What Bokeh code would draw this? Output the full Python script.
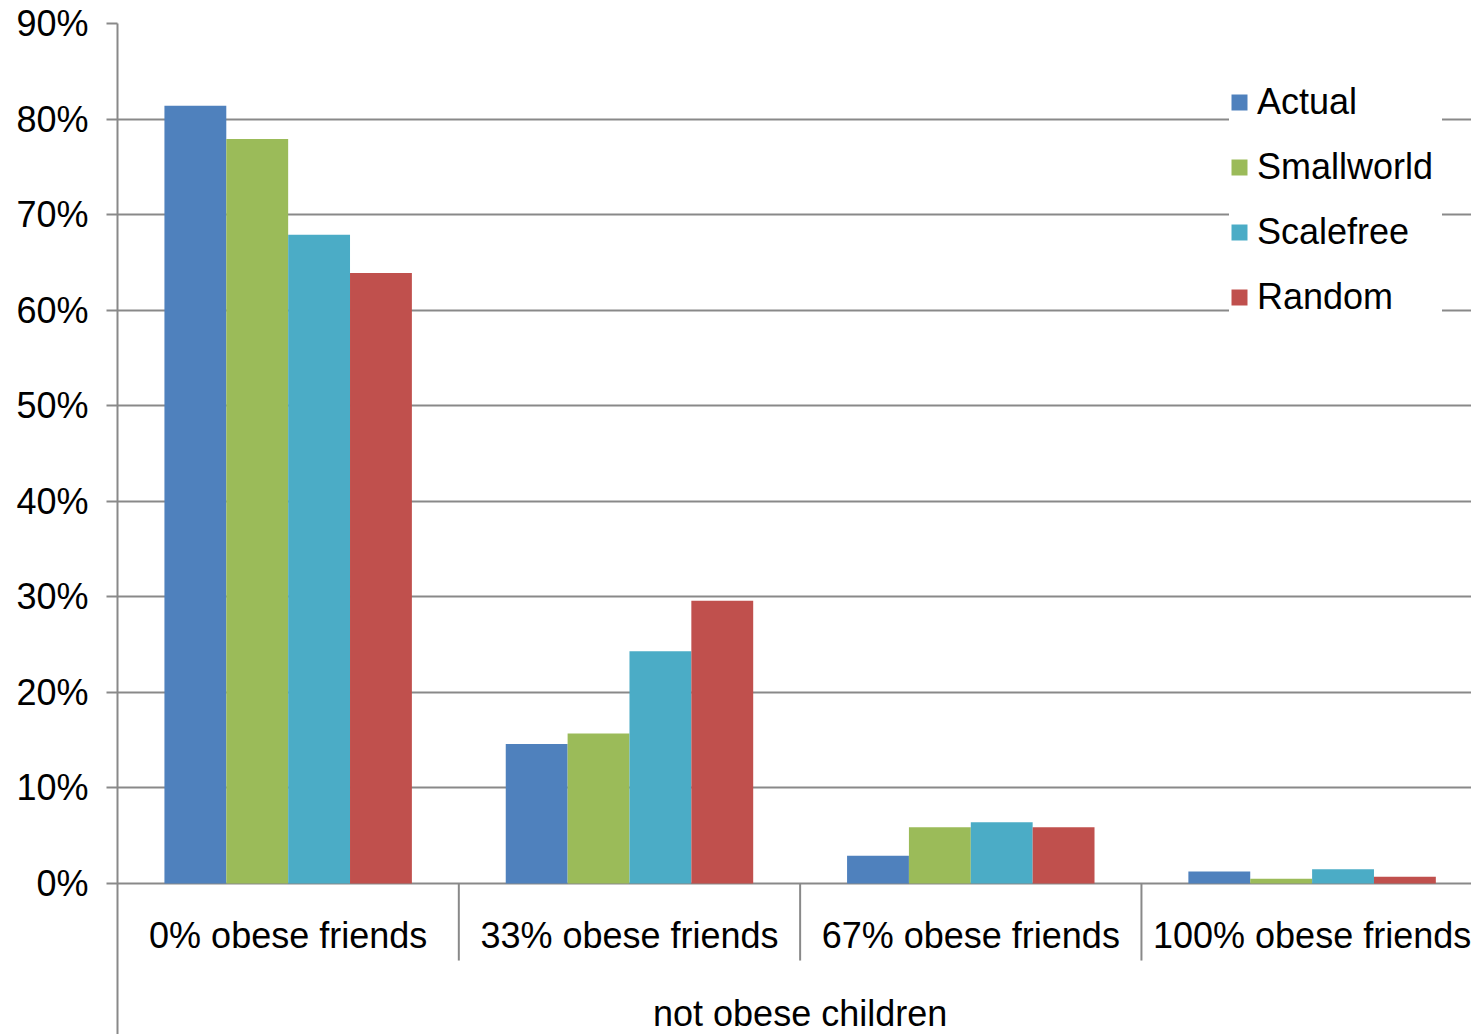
import numpy as np
from bokeh.plotting import figure
from bokeh.models import (Range1d, FixedTicker, PrintfTickFormatter, Legend, LegendItem,
                          ColumnDataSource)
from bokeh.core.properties import value
from bokeh.embed import file_html
from bokeh.resources import INLINE

categories = ["0% obese friends", "33% obese friends", "67% obese friends", "100% obese friends"]
group_label = "not obese children"
series_names = ["Actual", "Smallworld", "Scalefree", "Random"]
actual = [81.4, 14.6, 2.9, 1.26]
smallworld = [77.9, 15.7, 5.9, 0.5]
scalefree = [67.9, 24.3, 6.4, 1.5]
random_ = [63.9, 29.6, 5.9, 0.7]
colors = ["#4F81BD", "#9BBB59", "#4BACC6", "#C0504D"]
y_ticks = [0, 10, 20, 30, 40, 50, 60, 70, 80, 90]

FONT = "Liberation Sans"
GRID = "#898989"

p = figure(width=1471, height=1034, output_backend="svg", toolbar_location=None,
           x_range=Range1d(0, 3.967), y_range=Range1d(-15.8, 90),
           min_border_left=117, min_border_top=23, min_border_right=0, min_border_bottom=0,
           x_axis_location=None)
p.outline_line_color = None
p.background_fill_color = "white"
p.border_fill_color = "white"
p.xgrid.grid_line_color = None
p.ygrid.grid_line_color = GRID
p.ygrid.grid_line_width = 2
p.yaxis.ticker = FixedTicker(ticks=y_ticks)
p.yaxis.formatter = PrintfTickFormatter(format="%d%%")
p.yaxis.axis_line_color = GRID
p.yaxis.axis_line_width = 2
p.yaxis.major_tick_line_color = GRID
p.yaxis.major_tick_line_width = 2
p.yaxis.major_tick_out = 11
p.yaxis.major_tick_in = 0
p.yaxis.minor_tick_line_color = None
p.yaxis.major_label_text_font = FONT
p.yaxis.major_label_text_font_size = "36px"
p.yaxis.major_label_text_color = "black"
p.yaxis.major_label_standoff = 18

n_cat = len(categories)
cat_idx = np.arange(n_cat)
gap = 0.1375
bw = (1 - 2 * gap) / 4
all_series = [actual, smallworld, scalefree, random_]
items = []
for j, (name, vals, col) in enumerate(zip(series_names, all_series, colors)):
    xs = cat_idx + gap + bw * (j + 0.5)
    src = ColumnDataSource(dict(x=xs, top=vals))
    r = p.vbar(x="x", top="top", bottom=0, width=bw, source=src,
               fill_color=col, line_color=None)
    items.append(LegendItem(label=name, renderers=[r]))

# category separators below axis
sep_src = ColumnDataSource(dict(x=cat_idx[1:].astype(float)))
p.segment(x0="x", x1="x", y0=0, y1=-8.06, source=sep_src, line_color=GRID, line_width=2)

# category labels
lab_src = ColumnDataSource(dict(x=cat_idx + 0.5, y=[-5.45] * n_cat, t=categories))
p.text(x="x", y="y", text="t", source=lab_src, text_font=value(FONT),
       text_font_size="36px", text_align="center", text_baseline="middle", text_color="black")
p.text(x=[n_cat / 2], y=[-13.6], text=[group_label], text_font=value(FONT),
       text_font_size="36px", text_align="center", text_baseline="middle", text_color="black")

legend = Legend(items=items, location=(1112, 716), orientation="vertical",
                label_text_font=FONT, label_text_font_size="36px", label_text_color="black",
                glyph_width=20, glyph_height=20, label_height=36, label_width=185,
                label_standoff=8, spacing=23, padding=14, margin=0,
                border_line_color=None, background_fill_color="white", background_fill_alpha=1)
p.add_layout(legend)

open("out.html", "w").write(file_html(p, INLINE))
